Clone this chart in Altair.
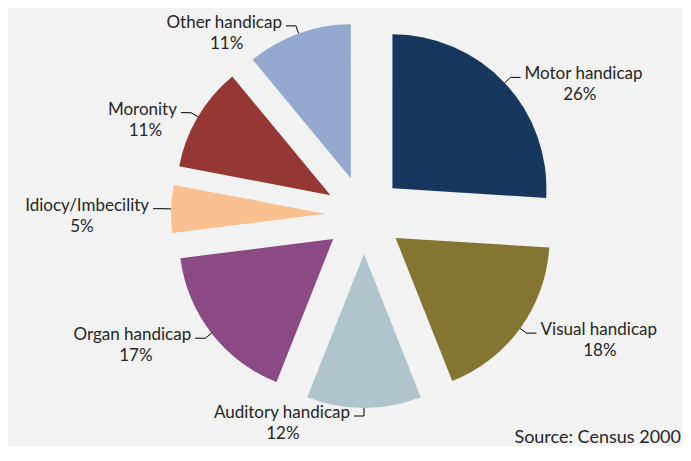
import altair as alt
import pandas as pd

# ---- data ----
categories = ["Motor handicap", "Visual handicap", "Auditory handicap", "Organ handicap",
              "Idiocy/Imbecility", "Moronity", "Other handicap"]
values = [26, 18, 12, 17, 5, 11, 11]
source_note = ["Source: Census 2000"]

# ---- styles ----
palette = ["#17375E", "#847532", "#B0C4CE", "#8B4A84", "#FAC090", "#953735", "#95A9D0"]
FONT = "Lato"
FS = 17
W, H_ = 675, 438
CX, CY = 356, 207      # pie centre (plot px)
R = 154                # slice radius
D = 39                 # explode distance
G = 8                  # leader diagonal length
HL = 10                # leader horizontal length
CW = 7.9               # approx char width for centring the % line

df = pd.DataFrame({"category": categories, "value": values, "order": list(range(len(values)))})

base = (
    alt.Chart(df)
    .transform_window(cum="sum(value)", sort=[alt.SortField("order")])
    .transform_joinaggregate(total="sum(value)")
    .transform_calculate(
        t0="2*PI*(datum.cum - datum.value)/datum.total",
        t1="2*PI*datum.cum/datum.total",
        mid="(datum.t0 + datum.t1)/2",
        sx="sin(datum.mid)",
        sy="-cos(datum.mid)",
        ex=f"{CX} + {D}*datum.sx",
        ey=f"{CY} + {D}*datum.sy",
        p1x=f"{CX} + {R + D}*datum.sx",
        p1y=f"{CY} + {R + D}*datum.sy",
        p2x=f"{CX} + {R + D + G}*datum.sx",
        p2y=f"{CY} + {R + D + G}*datum.sy",
        side="datum.sx > 0.01 ? 1 : -1",
        p3x=f"datum.p2x + datum.side*{HL}",
        nx="datum.p3x + datum.side*4",
        ny="datum.p2y - 3",
        px=f"datum.nx + datum.side*length(datum.category)*{CW}/2",
        py="datum.p2y + 18",
        pct="datum.value + '%'",
    )
)

X = lambda f: alt.X(f, type="quantitative", scale=None, axis=None)
Y = lambda f: alt.Y(f, type="quantitative", scale=None, axis=None)

arcs = base.mark_arc(outerRadius=R).encode(
    x=X("ex"), y=Y("ey"),
    theta=alt.Theta("t0:Q", scale=None, stack=None),
    theta2="t1:Q",
    color=alt.Color("category:N", scale=alt.Scale(domain=categories, range=palette), legend=None),
)

lead1 = base.mark_rule(color="black", strokeWidth=1).encode(
    x=X("p1x"), y=Y("p1y"), x2="p2x:Q", y2="p2y:Q")
lead2 = base.mark_rule(color="black", strokeWidth=1).encode(
    x=X("p2x"), y=Y("p2y"), x2="p3x:Q", y2="p2y:Q")

name_r = base.transform_filter("datum.side > 0").mark_text(
    align="left", baseline="middle", font=FONT, fontSize=FS, color="#262626"
).encode(x=X("nx"), y=Y("ny"), text="category:N")
name_l = base.transform_filter("datum.side < 0").mark_text(
    align="right", baseline="middle", font=FONT, fontSize=FS, color="#262626"
).encode(x=X("nx"), y=Y("ny"), text="category:N")
pct = base.mark_text(
    align="center", baseline="middle", font=FONT, fontSize=FS, color="#262626"
).encode(x=X("px"), y=Y("py"), text="pct:N")

src = alt.Chart(pd.DataFrame({"t": source_note})).mark_text(
    align="right", baseline="bottom", font=FONT, fontSize=18, color="#262626"
).encode(x=alt.value(W - 2), y=alt.value(H_ + 1), text="t:N")

chart = (
    alt.layer(arcs, lead1, lead2, name_r, name_l, pct, src)
    .properties(width=W, height=H_, padding=0,
                autosize=alt.AutoSizeParams(type="none"), background="#F2F2F2")
    .configure_view(stroke=None)
)

chart.save("out.html", embed_options={"renderer": "svg", "actions": False})
